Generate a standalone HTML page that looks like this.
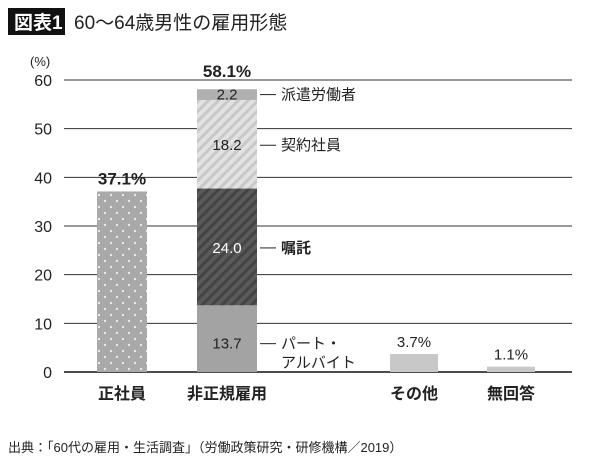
<!DOCTYPE html>
<html><head><meta charset="utf-8"><style>
body{margin:0;background:#fff;font-family:"Liberation Sans","Noto Sans CJK JP",sans-serif;}
svg text{font-family:"Liberation Sans","Noto Sans CJK JP",sans-serif;}
</style></head><body>
<svg id="c" width="600" height="465" viewBox="0 0 600 465" xmlns="http://www.w3.org/2000/svg">
<defs>
<pattern id="dots" width="12" height="12" patternUnits="userSpaceOnUse"><rect width="12" height="12" fill="#a9a9a9"/><circle cx="3" cy="3" r="1.2" fill="#e8e8e8"/><circle cx="9" cy="9" r="1.2" fill="#e8e8e8"/></pattern>
<pattern id="dk" width="7" height="7" patternUnits="userSpaceOnUse" patternTransform="rotate(45)"><rect width="7" height="7" fill="#5a5a5a"/><rect width="3" height="7" fill="#444"/></pattern>
<pattern id="lt" width="7" height="7" patternUnits="userSpaceOnUse" patternTransform="rotate(45)"><rect width="7" height="7" fill="#e2e2e2"/><rect width="3" height="7" fill="#c8c8c8"/></pattern>
</defs>
<rect x="8" y="8" width="57" height="27" fill="#111"/>
<text x="14" y="29" font-size="19" font-weight="bold" fill="#fff">図表1</text>
<text x="74" y="29" font-size="19" fill="#222">60〜64歳男性の雇用形態</text>
<text x="30" y="66" font-size="13" fill="#222">(%)</text>
<g id="grid"></g><g id="bars"></g><g id="labels"></g>
<text x="8" y="452" font-size="13" fill="#222">出典：「60代の雇用・生活調査」（労働政策研究・研修機構／2019）</text>
</svg>
<script>
const ticks=[0,10,20,30,40,50,60];
const singleCats=["正社員","その他","無回答"];
const singleVals=[37.1,3.7,1.1];
const stackCat="非正規雇用";
const stackNames=["パート・アルバイト","嘱託","契約社員","派遣労働者"];
const stackVals=[13.7,24.0,18.2,2.2];
const stackTotal="58.1%";
const NS="http://www.w3.org/2000/svg";
const y=v=>372-v*(292/60);
function el(t,a,p,txt){const e=document.createElementNS(NS,t);for(const k in a)e.setAttribute(k,a[k]);if(txt!=null)e.textContent=txt;p.appendChild(e);return e;}
const G=document.getElementById('grid'),B=document.getElementById('bars'),L=document.getElementById('labels');
ticks.forEach(t=>{
 const l=el('line',{x1:64,x2:572,y1:y(t),y2:y(t),stroke:t===0?'#111':'#333','stroke-width':t===0?1.5:1},G);
 
 
 const tx=el('text',{x:52,y:y(t)+6,'font-size':16,'text-anchor':'end',fill:'#222'},G,t);
 
 
});
const singleX=[122,414,511];const fills=['url(#dots)','#c8c8c8','#c8c8c8'];
singleCats.forEach((c,i)=>{
 const w=i===0?50:48;
 const r=el('rect',{x:singleX[i]-w/2,y:y(singleVals[i]),width:w,height:y(0)-y(singleVals[i]),fill:fills[i]},B);
 
 
 const v=el('text',{x:singleX[i],y:y(singleVals[i])-7,'font-size':i===0?17:15,'font-weight':i===0?'bold':'normal','text-anchor':'middle',fill:'#222'},L,singleVals[i].toFixed(1)+'%');
 
 
 const cl=el('text',{x:singleX[i],y:399,'font-size':16,'font-weight':'bold','text-anchor':'middle',fill:'#222'},L,c);
 
 
});
const sx=197,sw=60;const sf=['#a3a3a3','url(#dk)','url(#lt)','#b0b0b0'];const tc=['#222','#fff','#222','#222'];
let acc=0;
stackVals.forEach((v,i)=>{
 const top=y(acc+v),bot=y(acc);
 const r=el('rect',{x:sx,y:top,width:sw,height:bot-top,fill:sf[i]},B);
 
 
 const cy=i===3?(top+bot)/2+5:(i===0?y(acc+v/2)+10:(top+bot)/2+6);
 const t=el('text',{x:sx+sw/2,y:cy,'font-size':15,'text-anchor':'middle',fill:tc[i]},L,v.toFixed(1));
 
 
 const ly=cy-5;
 const ln=el('line',{x1:260,x2:276,y1:ly,y2:ly,stroke:'#222'},L);
 
 
 const nm=el('text',{x:281,y:ly+5,'font-size':15,'font-weight':i===1?'bold':'normal',fill:'#222'},L);
 
 
 if(i===0){el('tspan',{x:281,dy:0},nm,'パート・');el('tspan',{x:281,dy:19},nm,'アルバイト');}else nm.textContent=stackNames[i];
 acc+=v;
});
const tt=el('text',{x:sx+sw/2,y:y(acc)-12,'font-size':17,'font-weight':'bold','text-anchor':'middle',fill:'#222'},L,stackTotal);


const sc=el('text',{x:sx+sw/2,y:399,'font-size':16,'font-weight':'bold','text-anchor':'middle',fill:'#222'},L,stackCat);


</script>
</body></html>
